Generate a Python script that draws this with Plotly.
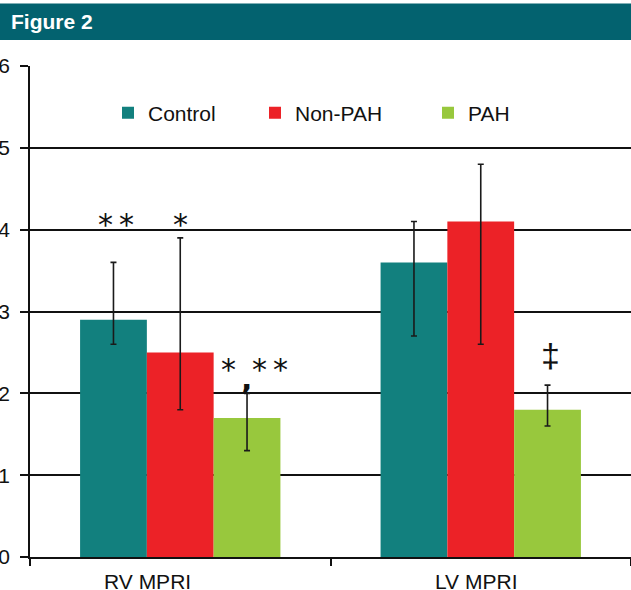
import plotly.graph_objects as go

# Myocardial perfusion reserve index by group
categories = ["RV MPRI", "LV MPRI"]
groups = ["Control", "Non-PAH", "PAH"]
colors = ["#12807E", "#EC2227", "#98C83D"]

means = {
    "Control": [2.9, 3.6],
    "Non-PAH": [2.5, 4.1],
    "PAH": [1.7, 1.8],
}
upper = {
    "Control": [3.6, 4.1],
    "Non-PAH": [3.9, 4.8],
    "PAH": [2.0, 2.1],
}
lower = {
    "Control": [2.6, 2.7],
    "Non-PAH": [1.8, 2.6],
    "PAH": [1.3, 1.6],
}

y_ticks = [0, 1, 2, 3, 4, 5, 6]

W, H = 631, 590
M_L, M_R, M_T, M_B = 30, 0, 66, 33
PLOT_W = W - M_L - M_R
PLOT_H = H - M_T - M_B

FONT = "Liberation Sans, Arial, sans-serif"
SYM = "DejaVu Sans, sans-serif"

fig = go.Figure()
legend_ids = ["legend", "legend2", "legend3"]
for g, c, lg in zip(groups, colors, legend_ids):
    fig.add_trace(go.Bar(
        name=g,
        x=categories,
        y=means[g],
        marker=dict(color=c, line=dict(width=0)),
        error_y=dict(
            type="data",
            symmetric=False,
            array=[u - m for u, m in zip(upper[g], means[g])],
            arrayminus=[m - l for m, l in zip(means[g], lower[g])],
            color="#1a1a1a",
            thickness=1.6,
            width=3,
        ),
        legend=lg,
    ))

bargap = 1 / 3
bar_w = (1 - bargap) / 3


def bar_x(cat_idx, grp_idx):
    return cat_idx + (grp_idx - 1) * bar_w


def paper_y(px):
    return 1 - (px - M_T) / PLOT_H


annotations = []
star_font = dict(family=SYM, size=30, color="#111111")
pair = "*\u2009*"
# significance markers
annotations += [
    dict(x=bar_x(0, 0) + 0.01, y=4.06, text=pair, showarrow=False,
         font=star_font, xref="x", yref="y"),
    dict(x=bar_x(0, 1), y=4.06, text="*", showarrow=False,
         font=star_font, xref="x", yref="y"),
    dict(x=bar_x(0, 2) - 0.063, y=2.29, text="*", showarrow=False,
         font=star_font, xref="x", yref="y"),
    dict(x=bar_x(0, 2) + 0.078, y=2.29, text=pair, showarrow=False,
         font=star_font, xref="x", yref="y"),
    dict(x=bar_x(0, 2) - 0.002, y=2.17, text="<b>,</b>", showarrow=False,
         font=dict(family=SYM, size=30, color="#111111"),
         xref="x", yref="y"),
    dict(x=bar_x(1, 2) + 0.01, y=2.47, text="‡", showarrow=False,
         font=dict(family=FONT, size=34, color="#111111"),
         xref="x", yref="y"),
]
# category labels
annotations += [
    dict(x=-0.11, y=paper_y(581), text="RV MPRI", showarrow=False,
         xref="x", yref="paper", yanchor="middle",
         font=dict(family=FONT, size=21, color="#111111")),
    dict(x=0.985, y=paper_y(581), text="LV MPRI", showarrow=False,
         xref="x", yref="paper", yanchor="middle",
         font=dict(family=FONT, size=21, color="#111111")),
]
# header text
annotations.append(dict(
    x=-(M_L - 9) / PLOT_W, y=paper_y(22), xref="paper", yref="paper",
    xanchor="left", yanchor="middle", showarrow=False,
    text="<b>Figure 2</b>",
    font=dict(family=FONT, size=21, color="white"),
))

shapes = [dict(
    type="rect", xref="paper", yref="paper",
    x0=-M_L / PLOT_W - 0.01, x1=1.01,
    y0=paper_y(40), y1=paper_y(3.5),
    fillcolor="#03626F", line=dict(width=0), layer="above",
)]

legend_font = dict(family=FONT, size=21, color="#111111")


def leg(px):
    return dict(
        x=(px - M_L) / PLOT_W, xanchor="left",
        y=paper_y(113), yanchor="middle",
        orientation="h", font=legend_font,
        bgcolor="rgba(0,0,0,0)", borderwidth=0,
    )


fig.update_layout(
    width=W, height=H,
    margin=dict(l=M_L, r=M_R, t=M_T, b=M_B, pad=0),
    paper_bgcolor="white", plot_bgcolor="white",
    barmode="group", bargap=bargap, bargroupgap=0,
    font=dict(family=FONT, size=20, color="#111111"),
    showlegend=True,
    legend=leg(108), legend2=leg(255), legend3=leg(428),
    annotations=annotations,
    shapes=shapes,
    xaxis=dict(
        type="category", categoryorder="array", categoryarray=categories,
        range=[-0.5, 1.5], showgrid=False, zeroline=False,
        showline=True, linecolor="#111111", linewidth=1.6,
        ticks="outside", tickson="boundaries", ticklen=7,
        tickcolor="#111111", tickwidth=1.6,
        showticklabels=False, automargin=False,
    ),
    yaxis=dict(
        range=[0, 6], tickmode="array", tickvals=y_ticks,
        showgrid=True, gridcolor="#111111", gridwidth=1.6,
        zeroline=False, showline=True, linecolor="#111111", linewidth=1.6,
        ticks="outside", ticklen=8, tickcolor="#111111", tickwidth=1.6,
        tickfont=dict(family=FONT, size=21, color="#111111"),
        ticklabelstandoff=6, automargin=False,
    ),
)

fig.write_html("out.html")
